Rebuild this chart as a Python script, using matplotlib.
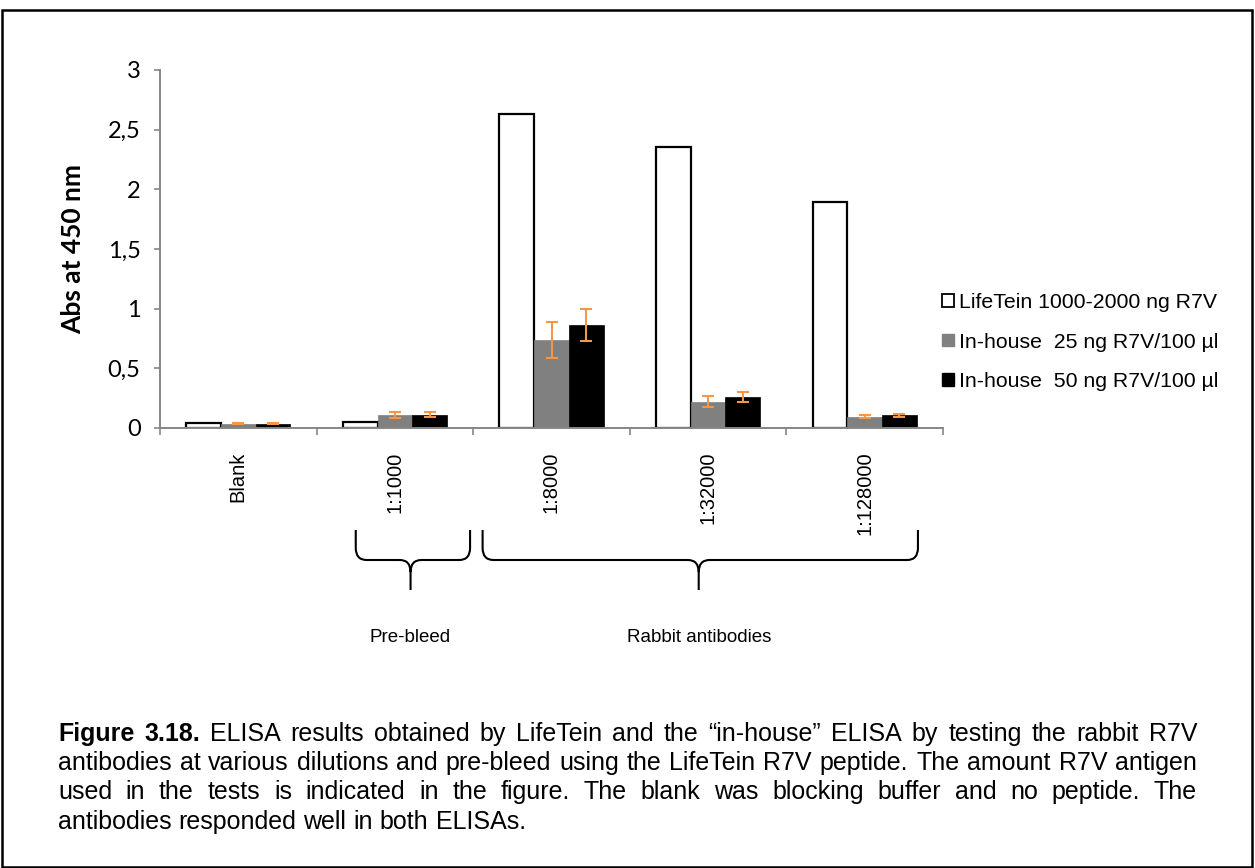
import numpy as np
import matplotlib.pyplot as plt
from matplotlib.patches import Rectangle, Patch, PathPatch
from matplotlib.path import Path
from matplotlib.transforms import blended_transform_factory

# data
categories = ["Blank", "1:1000", "1:8000", "1:32000", "1:128000"]
lifetein = [0.045, 0.047, 2.63, 2.355, 1.89]
inhouse_25 = [0.035, 0.11, 0.735, 0.22, 0.095]
err_25 = [0.005, 0.023, 0.15, 0.045, 0.012]
inhouse_50 = [0.035, 0.11, 0.865, 0.26, 0.105]
err_50 = [0.005, 0.02, 0.135, 0.04, 0.01]
series_names = ["LifeTein 1000-2000 ng R7V",
                "In-house  25 ng R7V/100 µl",
                "In-house  50 ng R7V/100 µl"]
yticks = [0, 0.5, 1, 1.5, 2, 2.5, 3]
ytick_labels = ["0", "0,5", "1", "1,5", "2", "2,5", "3"]

W, H = 1255, 868
SANS = "Liberation Sans"
CAL = "Lato"
ORANGE = "#F79646"
GREY_AX = "#868686"

fig = plt.figure(figsize=(W / 100, H / 100), dpi=100)
fig.patch.set_facecolor("white")

def fx(px):
    return px / W

def fy(py):
    return 1 - py / H

ax = fig.add_axes([fx(160), fy(428), fx(943) - fx(160), fy(70) - fy(428)])

x = np.arange(len(categories))
w = 0.222
ax.bar(x - w, lifetein, w, color="white", edgecolor="black", linewidth=1.6, zorder=2)
ax.bar(x, inhouse_25, w, color="#808080", edgecolor="#808080", linewidth=0.5, zorder=2)
ax.bar(x + w, inhouse_50, w, color="black", edgecolor="black", linewidth=0.5, zorder=2)
ax.errorbar(x, inhouse_25, yerr=err_25, fmt="none", ecolor=ORANGE,
            elinewidth=1.5, capsize=4.6, capthick=1.5, zorder=3)
ax.errorbar(x + w, inhouse_50, yerr=err_50, fmt="none", ecolor=ORANGE,
            elinewidth=1.5, capsize=4.6, capthick=1.5, zorder=3)

ax.set_xlim(-0.5, len(categories) - 0.5)
ax.set_ylim(0, 3)

# y axis
ax.set_yticks(yticks)
ax.set_yticklabels(ytick_labels, fontfamily=CAL, fontsize=17)
ax.tick_params(axis="y", direction="out", length=4, width=1.2, color=GREY_AX, pad=10)
ax.set_ylabel("Abs at 450 nm", fontfamily=CAL, fontweight="bold", fontsize=19, labelpad=16)

# x axis: ticks between categories, labels at centres
ax.set_xticks(np.arange(-0.5, len(categories), 1.0))
ax.set_xticklabels([])
ax.set_xticks(x, minor=True)
ax.set_xticklabels(categories, minor=True, rotation=90, va="top", ha="center",
                   fontfamily=SANS, fontsize=14.5)
ax.tick_params(axis="x", which="major", direction="out", length=5, width=1.2, color=GREY_AX)
ax.tick_params(axis="x", which="minor", length=0, pad=17)

for s in ["top", "right"]:
    ax.spines[s].set_visible(False)
for s in ["left", "bottom"]:
    ax.spines[s].set_color(GREY_AX)
    ax.spines[s].set_linewidth(1.4)

# legend
handles = [Patch(facecolor="white", edgecolor="black", linewidth=1.3),
           Patch(facecolor="#808080", edgecolor="#808080"),
           Patch(facecolor="black", edgecolor="black")]
fig.legend(handles, series_names, loc="center left",
           bbox_to_anchor=(fx(942), fy(342)), frameon=False,
           prop={"family": SANS, "size": 15.3},
           handlelength=0.55, handleheight=0.55, handletextpad=0.25,
           labelspacing=0.95, borderpad=0, borderaxespad=0)

# braces under the dilution labels
trans = blended_transform_factory(ax.transData, fig.transFigure)

def brace(x0, x1, xm, ytop=530, ymid=560, ybot=590):
    rx = 0.07
    ry = 12 / H
    yt, ym, yb = fy(ytop), fy(ymid), fy(ybot)
    verts = [(x0, yt), (x0, ym + ry), (x0, ym), (x0 + rx, ym),
             (xm - rx, ym), (xm, ym), (xm, ym - ry), (xm, yb),
             (x1, yt), (x1, ym + ry), (x1, ym), (x1 - rx, ym),
             (xm + rx, ym), (xm, ym), (xm, ym - ry)]
    codes = [Path.MOVETO, Path.LINETO, Path.CURVE3, Path.CURVE3,
             Path.LINETO, Path.CURVE3, Path.CURVE3, Path.LINETO,
             Path.MOVETO, Path.LINETO, Path.CURVE3, Path.CURVE3,
             Path.LINETO, Path.CURVE3, Path.CURVE3]
    p = PathPatch(Path(verts, codes), transform=trans, facecolor="none",
                  edgecolor="black", linewidth=1.5, clip_on=False)
    ax.add_patch(p)

brace(0.75, 1.48, 1.10)
brace(1.56, 4.34, 2.94)
ax.text(1.10, fy(637), "Pre-bleed", transform=trans, ha="center", va="center",
        fontfamily=SANS, fontsize=13.5)
ax.text(2.94, fy(637), "Rabbit antibodies", transform=trans, ha="center", va="center",
        fontfamily=SANS, fontsize=13.5)

# outer frame
fig.patches.append(Rectangle((fx(1.5), fy(866.5)), fx(1252) - fx(1.5), fy(9.5) - fy(866.5),
                             transform=fig.transFigure, fill=False,
                             edgecolor="black", linewidth=1.8))

# caption, justified
caption_lines = [
    ("Figure 3.18. ELISA results obtained by LifeTein and the \u201cin-house\u201d ELISA by testing the rabbit R7V", 2, True),
    ("antibodies at various dilutions and pre-bleed using the LifeTein R7V peptide. The amount R7V antigen", 0, True),
    ("used in the tests is indicated in the figure. The blank was blocking buffer and no peptide. The", 0, True),
    ("antibodies responded well in both ELISAs.", 0, False),
]
baselines = [741, 770, 799, 829]
left_px, right_px = 58, 1197
renderer = fig.canvas.get_renderer()
space_t = fig.text(0, 0, "a a", fontfamily=SANS, fontsize=18)
aa_t = fig.text(0, 0, "aa", fontfamily=SANS, fontsize=18)
space_w = space_t.get_window_extent(renderer).width - aa_t.get_window_extent(renderer).width
space_t.remove()
aa_t.remove()
for (line, nbold, just), yb in zip(caption_lines, baselines):
    words = line.split(" ")
    texts = [fig.text(0, fy(yb), wd, fontfamily=SANS, fontsize=18, va="baseline",
                      fontweight="bold" if k < nbold else "normal")
             for k, wd in enumerate(words)]
    widths = [t.get_window_extent(renderer).width for t in texts]
    if just:
        gap = (right_px - left_px - sum(widths)) / (len(words) - 1)
    else:
        gap = space_w
    pos = left_px
    for t, wdt in zip(texts, widths):
        t.set_x(fx(pos))
        pos += wdt + gap

fig.savefig("out.png", dpi=100)
